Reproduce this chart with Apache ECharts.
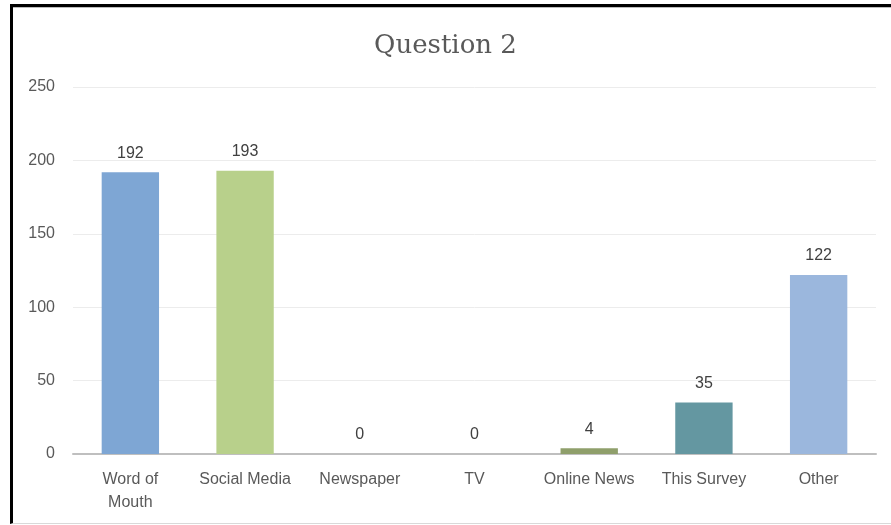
<!DOCTYPE html>
<html>
<head>
<meta charset="utf-8">
<script src="https://cdn.jsdelivr.net/npm/echarts@6/dist/echarts.min.js"></script>
<style>
  html, body { margin: 0; padding: 0; background: #fff; }
  #chart { position: absolute; left: 0; top: 0; width: 891px; height: 525px; }
  #frame {
    position: absolute; left: 10px; top: 4px; width: 881px; height: 516px;
    border-left: 3px solid #000; border-top: 3px solid #000;
    border-bottom: 1px solid #d9d9d9; pointer-events: none;
    box-shadow: inset 0 1px 0 #bbb;
  }
</style>
</head>
<body>
<div id="chart"></div>
<div id="frame"></div>
<script>
// Responses to question 2
const categories = ['Word of\nMouth', 'Social Media', 'Newspaper', 'TV', 'Online News', 'This Survey', 'Other'];
const counts = [192, 193, 0, 0, 4, 35, 122];
const barColors = ['#7ea6d4', '#b8d08b', '#7ea6d4', '#b8d08b', '#8f9f6b', '#6497a1', '#9bb7dd'];
const yTicks = { min: 0, max: 250, interval: 50 };

const chart = echarts.init(document.getElementById('chart'), null, { renderer: 'canvas' });
chart.setOption({
  animation: false,
  backgroundColor: '#fff',
  title: {
    text: 'Question 2',
    left: 'center',
    top: 28,
    textStyle: { fontFamily: 'DejaVu Serif', fontSize: 26, fontWeight: 'normal', color: '#595959' }
  },
  grid: { left: 73, right: 15, top: 87, bottom: 71, containLabel: false },
  xAxis: {
    type: 'category',
    data: categories,
    axisLine: { lineStyle: { color: '#bfbfbf', width: 2 } },
    axisTick: { show: false },
    axisLabel: {
      interval: 0, margin: 14, color: '#595959',
      fontFamily: 'Liberation Sans', fontSize: 16, lineHeight: 23
    }
  },
  yAxis: {
    type: 'value',
    min: yTicks.min, max: yTicks.max, interval: yTicks.interval,
    axisLine: { show: false },
    axisTick: { show: false },
    splitLine: { lineStyle: { color: '#ececec', width: 1 } },
    axisLabel: { margin: 18, color: '#595959', fontFamily: 'Liberation Sans', fontSize: 16 }
  },
  series: [{
    type: 'bar',
    barWidth: '50%',
    data: counts.map((v, i) => ({ value: v, itemStyle: { color: barColors[i] } })),
    label: {
      show: true, position: 'top', distance: 11,
      color: '#404040', fontFamily: 'Liberation Sans', fontSize: 16
    }
  }]
});
</script>
</body>
</html>
